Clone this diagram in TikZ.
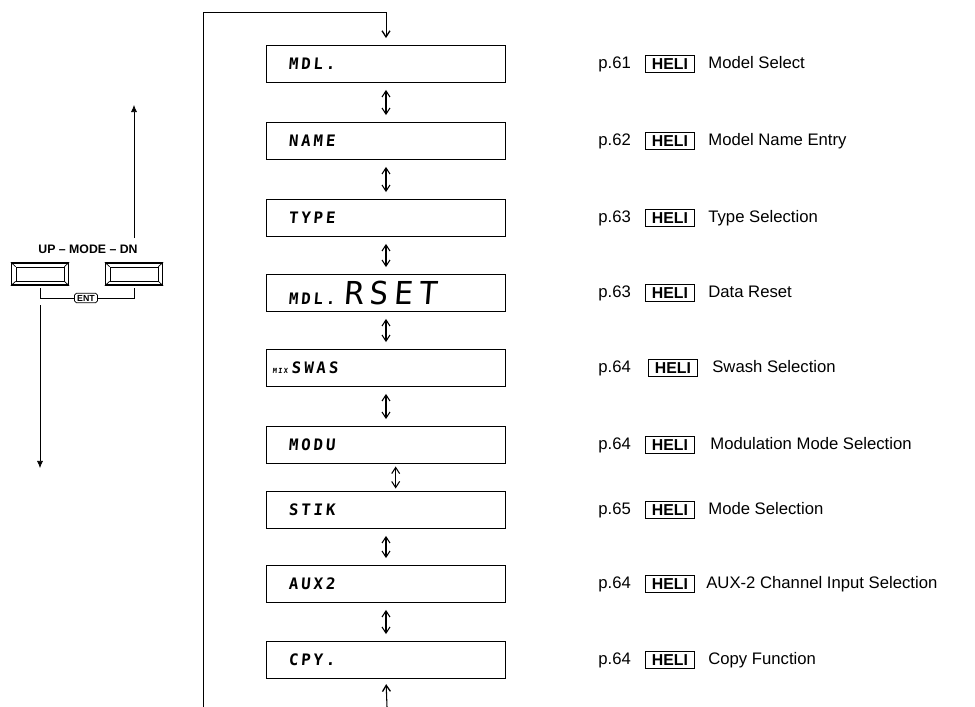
\documentclass[tikz,border=0pt]{standalone}
\usepackage{fontspec}
\setmainfont{Liberation Sans}
\newfontfamily\lcdfont[FakeSlant=0.08,LetterSpace=18]{DejaVu Sans Mono}
\usetikzlibrary{arrows.meta,positioning}

\begin{document}
\begin{tikzpicture}[x=0.02cm,y=-0.02cm,
    disp/.style={draw,minimum width=4.78cm,minimum height=0.74cm,inner xsep=0.44cm,text width=3.9cm,align=left,font=\lcdfont\bfseries\fontsize{9}{10}\selectfont},
    btn/.style={draw,thick,minimum width=1.14cm,minimum height=0.44cm,inner sep=0pt},
    btnin/.style={draw,minimum width=0.96cm,minimum height=0.28cm,inner sep=0pt},
    pg/.style={anchor=west,inner sep=0pt,text height=0.72em,text depth=0.21em,font=\fontsize{9.5}{10}\selectfont},
    heli/.style={draw,line width=1pt,minimum width=0.98cm,minimum height=0.34cm,inner sep=0pt,font=\bfseries\fontsize{9}{9}\selectfont},
    desc/.style={anchor=west,inner sep=0pt,text height=0.72em,text depth=0.21em,font=\fontsize{9.5}{10}\selectfont},
    arr/.style={-{Straight Barb[length=3.5pt,width=4.5pt,line width=0.75pt]}},
    dbl/.style={semithick,{Straight Barb[length=3.5pt,width=4.5pt]}-{Straight Barb[length=3.5pt,width=4.5pt]},shorten >=4pt,shorten <=4pt},
    bigarr/.style={-{Latex[length=4pt,width=3.5pt]}}
]
\useasboundingbox (0,0) rectangle (975,707);

\node[disp] (mdl) at (386,64) {MDL.};
\node[disp] (name) at (386,141) {NAME};
\node[disp] (type) at (386,218) {TYPE};
\node[disp] (rset) at (386,293) {MDL.\hspace{5pt}{\mdseries\fontsize{18}{18}\selectfont RSET}};
\node[disp] (swas) at (386,368) {\hspace{-9pt}{\fontsize{4}{4}\selectfont MIX}\hspace{2pt}SWAS};
\node[disp] (modu) at (386,445) {MODU};
\node[disp] (stik) at (386,510) {STIK};
\node[disp] (aux) at (386,584) {AUX2};
\node[disp] (cpy) at (386,660) {CPY.};

\draw[dbl] (mdl)--(name); \draw[dbl] (name)--(type); \draw[dbl] (type)--(rset);
\draw[dbl] (rset)--(swas); \draw[dbl] (swas)--(modu);
\draw[dbl,shorten >=1.5pt,shorten <=1.5pt] ([xshift=5.5pt]modu.south)--([xshift=5.5pt]stik.north);
\draw[dbl] (stik)--(aux); \draw[dbl] (aux)--(cpy);

\coordinate (lb) at (203,707);
\coordinate (lt) at (203,12);
\coordinate (ret) at (387,707);
\draw[arr,shorten >=4pt] (lb)--(lt)-|(mdl.north);
\draw[arr,semithick,shorten >=3pt] (ret)--(cpy.south);

\node[pg] (p1) at (598,64) {p.61};
\node[pg] (p2) at (598,141) {p.62};
\node[pg] (p3) at (598,218) {p.63};
\node[pg] (p4) at (598,293) {p.63};
\node[pg] (p5) at (598,368) {p.64};
\node[pg] (p6) at (598,445) {p.64};
\node[pg] (p7) at (598,510) {p.65};
\node[pg] (p8) at (598,584) {p.64};
\node[pg] (p9) at (598,660) {p.64};

\node[heli] (h1) at (670,64) {HELI};
\node[heli] (h2) at (670,141) {HELI};
\node[heli] (h3) at (670,218) {HELI};
\node[heli] (h4) at (670,293) {HELI};
\node[heli] (h5) at (673,368) {HELI};
\node[heli] (h6) at (670,445) {HELI};
\node[heli] (h7) at (670,510) {HELI};
\node[heli] (h8) at (670,584) {HELI};
\node[heli] (h9) at (670,660) {HELI};

\node[desc] (d1) at (708,64) {Model Select};
\node[desc] (d2) at (708,141) {Model Name Entry};
\node[desc] (d3) at (708,218) {Type Selection};
\node[desc] (d4) at (708,293) {Data Reset};
\node[desc] (d5) at (712,368) {Swash Selection};
\node[desc] (d6) at (710,445) {Modulation Mode Selection};
\node[desc] (d7) at (708,510) {Mode Selection};
\node[desc] (d8) at (706,584) {AUX-2 Channel Input Selection};
\node[desc] (d9) at (708,660) {Copy Function};

\node[font=\bfseries\fontsize{7}{8}\selectfont] (lbl) at (88,249) {UP -- MODE -- DN};
\node[btn] (up) at (40,274) {};
\node[btnin] (upin) at (40,274) {};
\node[btn] (dn) at (134,274) {};
\node[btnin] (dnin) at (134,274) {};
\draw (up.north west)--(upin.north west) (up.north east)--(upin.north east)
      (up.south west)--(upin.south west) (up.south east)--(upin.south east);
\draw (dn.north west)--(dnin.north west) (dn.north east)--(dnin.north east)
      (dn.south west)--(dnin.south west) (dn.south east)--(dnin.south east);
\node[draw,rounded corners=1pt,inner xsep=1.5pt,inner ysep=1pt,font=\bfseries\fontsize{5}{5}\selectfont] (ent) at (86,298) {ENT};
\draw[shorten <=1.5pt] (up.south)|-(ent.west);
\draw[shorten <=1.5pt] (dn.south)|-(ent.east);

\coordinate (upfoot) at (134,238);
\coordinate (uptip) at (134,105);
\coordinate (dnfoot) at (40,305);
\coordinate (dntip) at (40,468);
\draw[bigarr] (upfoot)--(uptip);
\draw[bigarr] (dnfoot)--(dntip);
\end{tikzpicture}
\end{document}
